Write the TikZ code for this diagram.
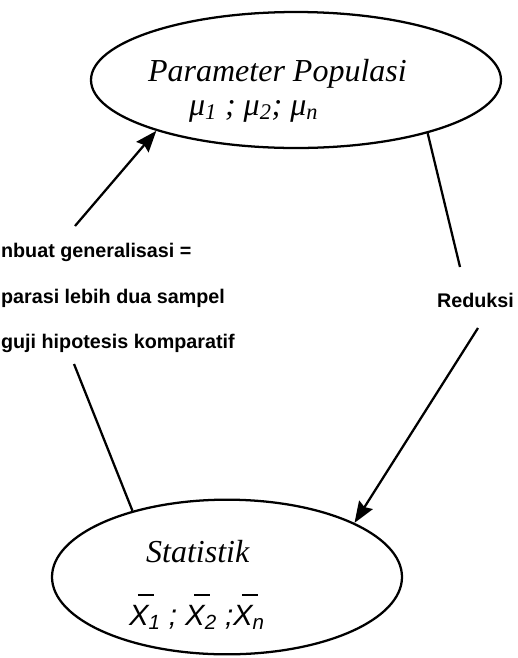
\documentclass[tikz,border=0pt]{standalone}
\usepackage{fontspec}
\setmainfont{Liberation Serif}
\setsansfont{Liberation Sans}
\usetikzlibrary{shapes.geometric, arrows.meta}
\newcommand{\overx}{\leavevmode\rlap{\hspace{0.3em}\rule[1.0em]{0.55em}{0.07em}}X}

\begin{document}
\begin{tikzpicture}[x=0.75pt, y=-0.75pt, line width=1.7pt,
  oval/.style = {draw, ellipse, inner sep=0pt},
  judul/.style = {font=\fontsize{24}{28}\selectfont\itshape, inner sep=0pt, anchor=base west},
  ket/.style = {font=\sffamily\bfseries\fontsize{14.8}{18}\selectfont, inner sep=0pt, anchor=base west},
  panah/.style = {-{Stealth[length=16pt, width=12pt, inset=2pt]}}]
\useasboundingbox (0,0) rectangle (518,658);
% dua elips
\node[oval, minimum width=307.5pt, minimum height=102pt] (pop) at (296,80) {};
\node[oval, minimum width=262.5pt, minimum height=116pt] (stat) at (227,577) {};
\node[judul] (pop1) at (147,81) {Parameter Populasi};
\node[judul] (pop2) at (188,115) {μ\textsubscript{1} ; μ\textsubscript{2}; μ\textsubscript{n}};
\node[judul] (stat1) at (145,562) {Statistik};
\node[judul, font=\sffamily\itshape\fontsize{22}{26}\selectfont] (stat2) at (128,625) {\overx\textsubscript{1} ; \overx\textsubscript{2} ;\overx\textsubscript{n}};
% keterangan
\node[ket] (gen1) at (0,257) {nbuat generalisasi =};
\node[ket] (gen2) at (0,303) {parasi lebih dua sampel};
\node[ket] (gen3) at (0,348) {guji hipotesis komparatif};
\node[ket] (red) at (436,307) {Reduksi};
\coordinate (genbawah) at (74,364);
\coordinate (genatas) at (75,226);
\coordinate (redatas) at (460,267);
\coordinate (redbawah) at (478,328);
\draw (stat.145) -- (genbawah);
\draw[panah] (genatas) -- (pop.200);
\draw (pop.338) -- (redatas);
\draw[panah] (redbawah) -- (stat.23);
\end{tikzpicture}
\end{document}
